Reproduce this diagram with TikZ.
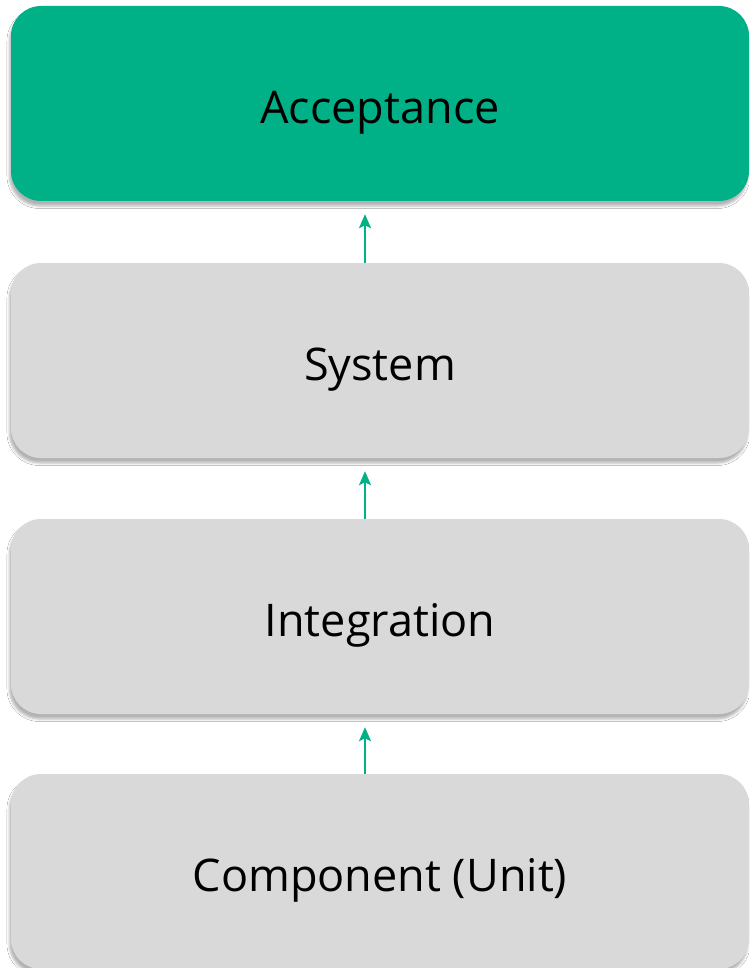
\documentclass[tikz,border=0pt]{standalone}
\usepackage{fontspec}
\setmainfont{Open Sans}
\usetikzlibrary{shadows.blur,arrows.meta}
\definecolor{levelgreen}{RGB}{0,177,136}
\definecolor{levelgray}{RGB}{217,217,217}
\tikzset{
  level/.style={rounded corners=30pt, minimum width=738pt, minimum height=195pt,
    inner sep=0pt, text height=40pt, text depth=0pt,
    font=\fontsize{45}{54}\selectfont, text=black,
    blur shadow={shadow xshift=-1.5pt, shadow yshift=-5pt, shadow blur radius=2.5pt, shadow opacity=30}},
  active/.style={level, fill=levelgreen},
  plain/.style={level, fill=levelgray},
  uparrow/.style={draw=levelgreen, line width=2.4pt, -{Stealth[length=14pt,width=12pt,inset=3pt]}}
}
\begin{document}
\begin{tikzpicture}[x=1pt,y=-1pt]
  \path[use as bounding box, fill=white] (0,0) rectangle (749,968);
  % test levels, from the top down
  \node[active] (acc) at (380,103.5) {Acceptance};
  \node[plain]  (sys) at (380,360.5) {System};
  \node[plain]  (int) at (380,616.5) {Integration};
  \node[plain]  (cmp) at (380,871.5) {Component (Unit)};
  % each level builds on the one below
  \draw[uparrow] ([xshift=-15pt]sys.north) -- ([xshift=-15pt,yshift=-13pt]acc.south);
  \draw[uparrow] ([xshift=-15pt]int.north) -- ([xshift=-15pt,yshift=-13pt]sys.south);
  \draw[uparrow] ([xshift=-15pt]cmp.north) -- ([xshift=-15pt,yshift=-13pt]int.south);
\end{tikzpicture}
\end{document}
